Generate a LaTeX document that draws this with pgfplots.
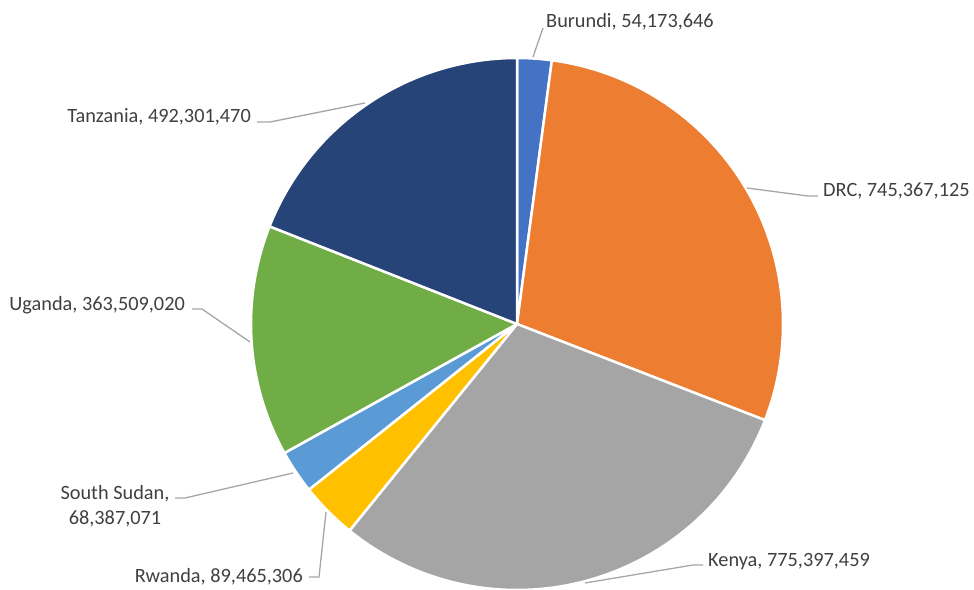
\documentclass[border=0pt]{standalone}
\usepackage{fontspec}
\setmainfont{Carlito}
\usepackage{pgfplots}
\usepackage{pgfplotstable}
\pgfplotsset{compat=1.18}
\definecolor{cBurundi}{HTML}{4472C4}
\definecolor{cDRC}{HTML}{ED7D31}
\definecolor{cKenya}{HTML}{A5A5A5}
\definecolor{cRwanda}{HTML}{FFC000}
\definecolor{cSouthSudan}{HTML}{5B9BD5}
\definecolor{cUganda}{HTML}{70AD47}
\definecolor{cTanzania}{HTML}{264478}
\definecolor{labelgray}{HTML}{404040}
\definecolor{leadergray}{HTML}{A6A6A6}

\pgfplotstableread{
name value color
Burundi 54173646 cBurundi
DRC 745367125 cDRC
Kenya 775397459 cKenya
Rwanda 89465306 cRwanda
SouthSudan 68387071 cSouthSudan
Uganda 363509020 cUganda
Tanzania 492301470 cTanzania
}\piedata

\gdef\pietotal{0}
\pgfplotstableforeachcolumnelement{value}\of\piedata\as\v{\xdef\pietotal{\fpeval{\pietotal+\v}}}

\begin{document}
\begin{tikzpicture}
\begin{axis}[x=1pt, y=1pt, xmin=0, xmax=974, ymin=0, ymax=589,
  hide axis, scale only axis, clip=false, at={(0,0)}, anchor=south west]
\gdef\piecum{0}
\pgfplotstableforeachcolumnelement{value}\of\piedata\as\v{%
  \pgfplotstablegetelem{\pgfplotstablerow}{color}\of\piedata
  \let\slicecolor\pgfplotsretval
  \edef\a{\fpeval{90-360*\piecum/\pietotal}}%
  \xdef\piecum{\fpeval{\piecum+\v}}%
  \edef\b{\fpeval{90-360*\piecum/\pietotal}}%
  \edef\temp{\noexpand\fill[\slicecolor, draw=white, line width=2.5pt, line join=round] (axis cs:517,265) -- ++(\a:266pt) arc[start angle=\a, end angle=\b, radius=266pt] -- cycle;}%
  \temp
}
\tikzset{leader/.style={draw=leadergray, line width=1.3pt},
  lab/.style={inner sep=0pt, text=labelgray, font=\fontsize{20.3}{24}\selectfont}}
\draw[leader] (axis cs:533,532) -- (axis cs:543,561);
\draw[leader] (axis cs:747,401) -- (axis cs:808,393) -- (axis cs:818,393);
\draw[leader] (axis cs:585,6) -- (axis cs:693,24) -- (axis cs:703,24);
\draw[leader] (axis cs:326,77) -- (axis cs:319,12) -- (axis cs:309,12);
\draw[leader] (axis cs:293,116) -- (axis cs:185,91) -- (axis cs:175,91);
\draw[leader] (axis cs:250,247) -- (axis cs:202,280) -- (axis cs:192,280);
\draw[leader] (axis cs:365,486) -- (axis cs:270,467) -- (axis cs:257,467);
\node[lab, anchor=base west] at (axis cs:546,561) {Burundi, 54,173,646};
\node[lab, anchor=base west] at (axis cs:823,392) {DRC, 745,367,125};
\node[lab, anchor=base west] at (axis cs:708,23) {Kenya, 775,397,459};
\node[lab, anchor=base east] at (axis cs:303,7) {Rwanda, 89,465,306};
\node[lab, anchor=base] at (axis cs:115,89) {South Sudan,};
\node[lab, anchor=base] at (axis cs:115,65) {68,387,071};
\node[lab, anchor=base east] at (axis cs:185,278) {Uganda, 363,509,020};
\node[lab, anchor=base east] at (axis cs:251,466) {Tanzania, 492,301,470};
\end{axis}
\pgfresetboundingbox
\path[use as bounding box] (0,0) rectangle (974pt,589pt);
\end{tikzpicture}
\end{document}
